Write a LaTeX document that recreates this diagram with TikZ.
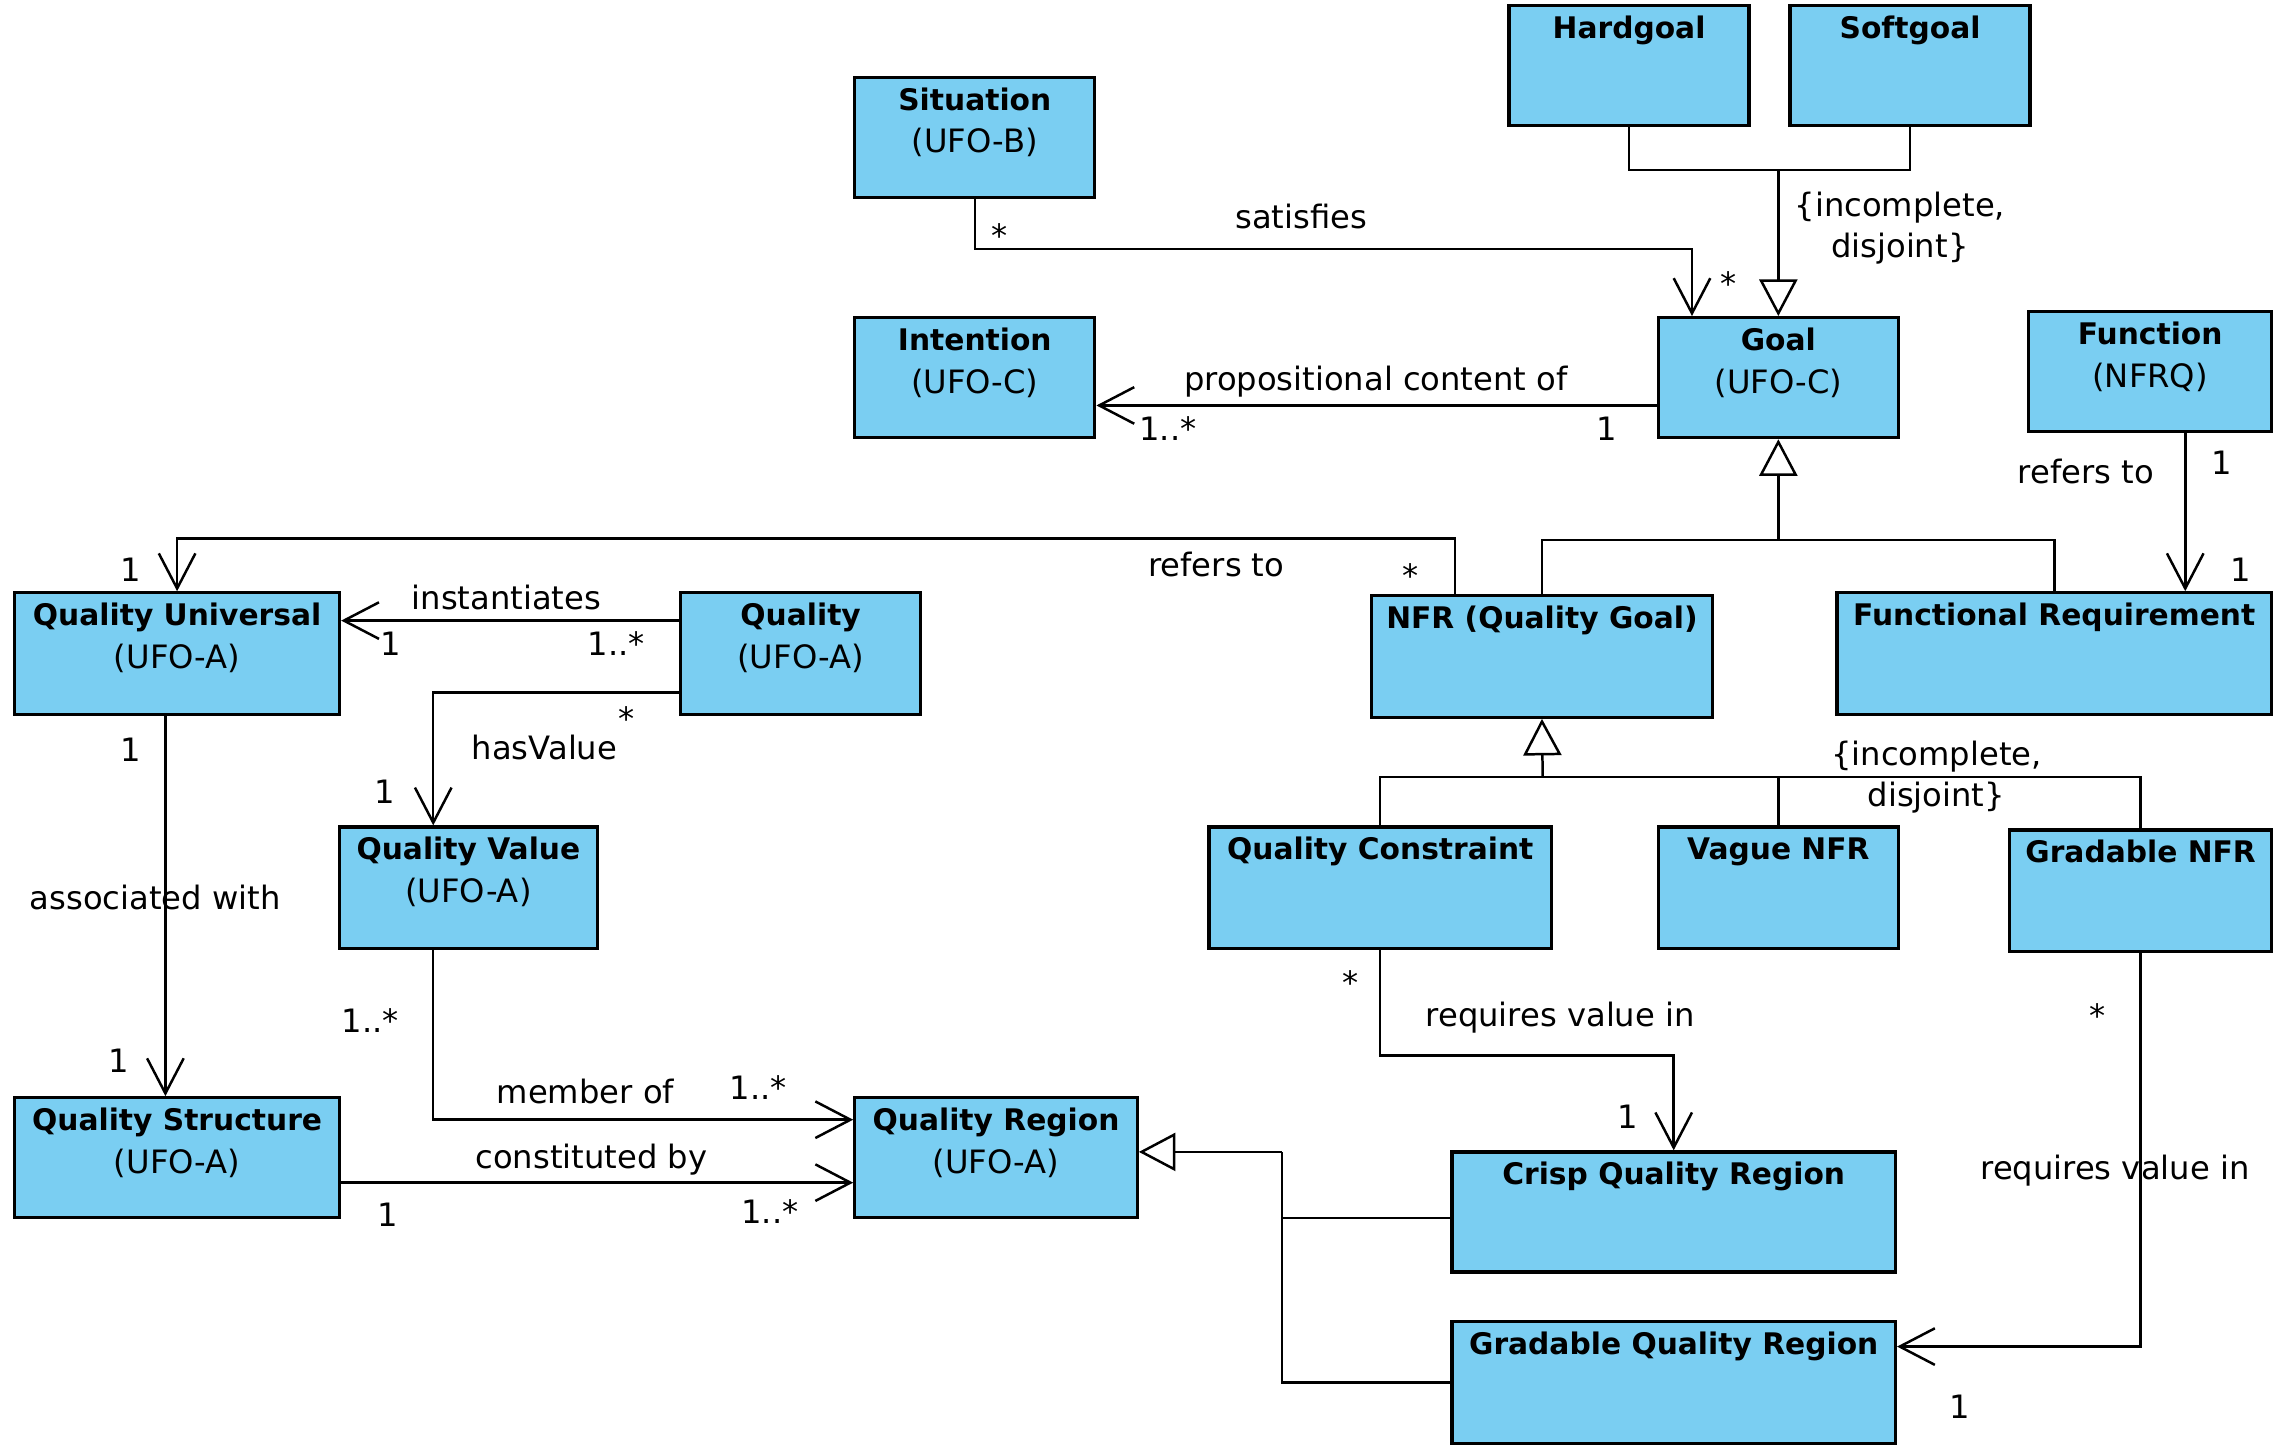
\documentclass[tikz,border=0pt]{standalone}
\usepackage{fontspec}
\setmainfont{DejaVu Sans}
\usetikzlibrary{arrows.meta,fit,positioning,calc}
\definecolor{umlblue}{RGB}{122,206,242}
\newcommand{\cname}[1]{{\fontsize{20.3}{29}\selectfont\bfseries #1}}
\tikzset{%
	% Specifications for style of nodes:
	umlclass/.style = {rectangle, draw=black, fill=umlblue,
		line width=2.2pt, inner sep=0pt},
	ctitle/.style = {anchor=north, align=center, inner sep=0pt,
		yshift=-8pt, font=\fontsize{22}{29}\selectfont},
	lbl/.style = {inner sep=0pt, align=center,
		font=\fontsize{22}{28}\selectfont},
	conn/.style = {line width=1.7pt},
	assoc/.style = {conn, -{Straight Barb[length=24pt, width=25pt]}},
	gen/.style = {conn, -{Triangle[open, fill=white, length=25pt, width=26pt]}},
}

\begin{document}
\begin{tikzpicture}[x=1pt, y=-1pt]
\useasboundingbox (0,0) rectangle (1568,994);
%% Specification of nodes (position, etc.)
\node (hardgoal)  [umlclass, fit={(1031,4) (1195,86)},    label={[ctitle]north:\cname{Hardgoal}}] {};
\node (softgoal)  [umlclass, fit={(1223,4) (1387,86)},    label={[ctitle]north:\cname{Softgoal}}] {};
\node (situation) [umlclass, fit={(584,53) (748,135)},    label={[ctitle]north:{\cname{Situation}\\(UFO-B)}}] {};
\node (intention) [umlclass, fit={(584,217) (748,299)},   label={[ctitle]north:{\cname{Intention}\\(UFO-C)}}] {};
\node (goal)      [umlclass, fit={(1133,217) (1297,299)}, label={[ctitle]north:{\cname{Goal}\\(UFO-C)}}] {};
\node (function)  [umlclass, fit={(1386,213) (1552,295)}, label={[ctitle]north:{\cname{Function}\\(NFRQ)}}] {};

\node (quniv)     [umlclass, fit={(10,405) (232,488)},    label={[ctitle]north:{\cname{Quality Universal}\\(UFO-A)}}] {};
\node (quality)   [umlclass, fit={(465,405) (629,488)},   label={[ctitle]north:{\cname{Quality}\\(UFO-A)}}] {};
\node (nfr)       [umlclass, fit={(937,407) (1170,490)},  label={[ctitle]north:\cname{NFR (Quality Goal)}}] {};
\node (freq)      [umlclass, fit={(1255,405) (1552,488)}, label={[ctitle]north:\cname{Functional Requirement}}] {};

\node (qvalue)    [umlclass, fit={(232,565) (408,648)},   label={[ctitle]north:{\cname{Quality Value}\\(UFO-A)}}] {};
\node (qconstr)   [umlclass, fit={(826,565) (1060,648)},  label={[ctitle]north:\cname{Quality Constraint}}] {};
\node (vague)     [umlclass, fit={(1133,565) (1297,648)}, label={[ctitle]north:\cname{Vague NFR}}] {};
\node (gnfr)      [umlclass, fit={(1373,567) (1552,650)}, label={[ctitle]north:\cname{Gradable NFR}}] {};

\node (qstruct)   [umlclass, fit={(10,750) (232,832)},    label={[ctitle]north:{\cname{Quality Structure}\\(UFO-A)}}] {};
\node (qregion)   [umlclass, fit={(584,750) (777,832)},   label={[ctitle]north:{\cname{Quality Region}\\(UFO-A)}}] {};
\node (crisp)     [umlclass, fit={(992,787) (1295,869)},  label={[ctitle]north:\cname{Crisp Quality Region}}] {};
\node (gqregion)  [umlclass, fit={(992,903) (1295,986)},  label={[ctitle]north:\cname{Gradable Quality Region}}] {};

%% Specification of lines between nodes specified above
\coordinate (goalsplit) at (1215,116);
\coordinate (reqsplit)  at (1215,369);
\coordinate (nfrsplit)  at (1054,531);
\coordinate (regsplit)  at (876,787);

\draw[conn]  (hardgoal.south) |- (goalsplit) -| (softgoal.south);
\draw[gen]   (goalsplit) -- (goal.north);
\draw[assoc] (situation.south) -- ++(0,34) -| ([xshift=-59pt]goal.north);
\draw[assoc] ([yshift=-19pt]goal.west) -- ([yshift=-19pt]intention.east);

\draw[conn]  (nfr.north) |- (reqsplit) -| (freq.north);
\draw[gen]   (reqsplit) -- (goal.south);
\draw[assoc] ([xshift=24pt]function.south) -- ([xshift=89.5pt]freq.north);
\draw[assoc] ([xshift=-59.5pt]nfr.north) -- ++(0,-38) -| (quniv.north);

\draw[assoc] ([yshift=22.5pt]quality.west) -- ([yshift=22.5pt]quniv.east);
\draw[assoc] ([yshift=-26.5pt]quality.west) -| ([xshift=-24pt]qvalue.north);
\draw[assoc] ([xshift=-8pt]quniv.south) -- ([xshift=-8pt]qstruct.north);
\draw[assoc] ([xshift=-24pt]qvalue.south) |- ([yshift=26pt]qregion.west);
\draw[assoc] ([yshift=-17pt]qstruct.east) -- ([yshift=-17pt]qregion.west);

\draw[conn]  (qconstr.north) |- (nfrsplit) -| (gnfr.north);
\draw[conn]  (vague.north) -- (vague.north |- nfrsplit);
\draw[gen]   (nfrsplit) -- (nfr.south);
\draw[assoc] (qconstr.south) -- ++(0,72) -| (crisp.north);
\draw[assoc] (gnfr.south) |- ([yshift=24.5pt]gqregion.east);

\draw[conn]  ([yshift=-4pt]crisp.west) -| (regsplit);
\draw[conn]  (gqregion.west) -| (regsplit);
\draw[gen]   (regsplit) -- (regsplit -| qregion.east);

%% additional nodes for description
\node (satlbl)   [lbl] at (889,148)  {satisfies};
\node (satm1)    [lbl] at (683,161)  {*};
\node (satm2)    [lbl] at (1181,194) {*};
\node (goalgc)   [lbl] at (1298,156) {\{incomplete,\\disjoint\}};
\node (proplbl)  [lbl] at (940,261)  {propositional content of};
\node (propm1)   [lbl] at (798,293)  {1..*};
\node (propm2)   [lbl] at (1098,293) {1};
\node (funclbl)  [lbl] at (1425,322) {refers to};
\node (funcm1)   [lbl] at (1518,316) {1};
\node (funcm2)   [lbl] at (1531,389) {1};
\node (reflbl)   [lbl] at (831,386)  {refers to};
\node (refm1)    [lbl] at (964,393)  {*};
\node (refm2)    [lbl] at (89,389)   {1};
\node (instlbl)  [lbl] at (346,408)  {instantiates};
\node (instm1)   [lbl] at (267,440)  {1};
\node (instm2)   [lbl] at (421,440)  {1..*};
\node (hvm1)     [lbl] at (428,491)  {*};
\node (hvlbl)    [lbl] at (372,511)  {hasValue};
\node (hvm2)     [lbl] at (263,541)  {1};
\node (asslbl)   [lbl] at (106,613)  {associated with};
\node (assm1)    [lbl] at (89,512)   {1};
\node (assm2)    [lbl] at (81,725)   {1};
\node (memm1)    [lbl] at (253,697)  {1..*};
\node (memlbl)   [lbl] at (400,746)  {member of};
\node (memm2)    [lbl] at (518,743)  {1..*};
\node (conlbl)   [lbl] at (404,792)  {constituted by};
\node (conm1)    [lbl] at (265,830)  {1};
\node (conm2)    [lbl] at (526,828)  {1..*};
\node (nfrgc)    [lbl] at (1323,531) {\{incomplete,\\disjoint\}};
\node (reqm1)    [lbl] at (923,671)  {*};
\node (reqlbl)   [lbl] at (1066,695) {requires value in};
\node (reqm2)    [lbl] at (1112,763) {1};
\node (greqm1)   [lbl] at (1433,694) {*};
\node (greqlbl)  [lbl] at (1445,800) {requires value in};
\node (greqm2)   [lbl] at (1339,961) {1};
\end{tikzpicture}
\end{document}
